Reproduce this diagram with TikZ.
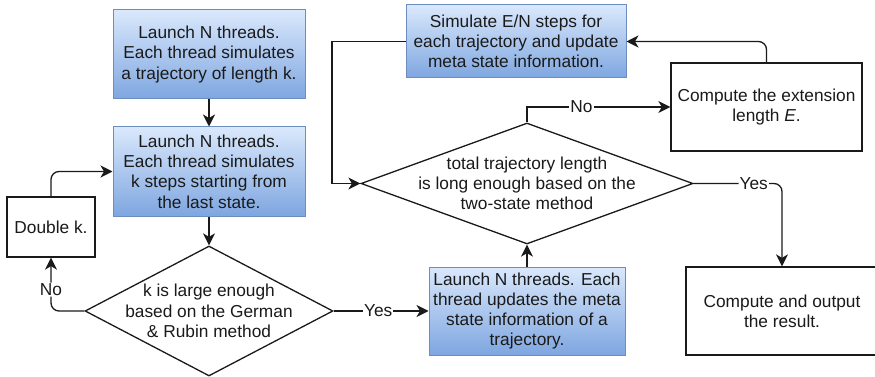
\documentclass[tikz,border=0pt]{standalone}
\usepackage{fontspec}
\setmainfont{Liberation Sans}
\usetikzlibrary{shapes.geometric,arrows.meta}
\definecolor{edgeblue}{HTML}{6C8EBF}
\definecolor{lightblue}{HTML}{DAE8FC}
\definecolor{darkblue}{HTML}{7EA6E0}
\definecolor{ink}{HTML}{1A1A1A}
\tikzset{
  txt/.style={font=\fontsize{17.3}{20.3}\selectfont, text=ink, align=center},
  bluebox/.style={txt, rectangle, draw=edgeblue, line width=1pt,
    top color=lightblue, bottom color=darkblue, inner sep=0pt},
  plainbox/.style={txt, rectangle, draw=ink, line width=1.3pt, fill=white, inner sep=0pt},
  decision/.style={diamond, draw=ink, line width=1.3pt, fill=white, inner sep=0pt},
  conn/.style={draw=ink, line width=1.3pt, -{Stealth[length=12pt,width=12pt,inset=3.5pt]}},
  edgelabel/.style={txt, fill=white, inner sep=1pt}
}
\begin{document}
\begin{tikzpicture}[x=1pt,y=-1pt]
\useasboundingbox (0,0) rectangle (875,377);
\clip (0,0) rectangle (875,377);

% left column
\node[bluebox, minimum width=192pt, minimum height=89pt] (init) at (209,54.5)
  {Launch N threads.\\Each thread simulates\\a trajectory of length k.};
\node[bluebox, minimum width=192pt, minimum height=89pt] (steps) at (209,171.5)
  {Launch N threads.\\Each thread simulates\\k steps starting from\\the last state.};
\node[plainbox, minimum width=88pt, minimum height=60pt] (double) at (51,227) {Double k.};
\node[decision, minimum width=248pt, minimum height=130pt,
  label={[txt]center:{k is large enough\\based on the German\\\& Rubin method}}] (gr) at (209,311) {};

% middle and right
\node[bluebox, minimum width=196pt, minimum height=88pt] (meta) at (527,311)
  {Launch N threads. Each\\thread updates the meta\\state information of a\\trajectory.};
\node[decision, minimum width=332pt, minimum height=121pt,
  label={[txt]center:{total trajectory length\\is long enough based on the\\two-state method}}] (ts) at (527,183.5) {};
\node[bluebox, minimum width=220pt, minimum height=73pt] (sim) at (516,41.5)
  {Simulate E/N steps for\\each trajectory and update\\meta state information.};
\node[plainbox, minimum width=191pt, minimum height=88pt] (ext) at (766.5,107)
  {Compute the extension\\length \emph{E}.};
\node[plainbox, minimum width=192pt, minimum height=88pt] (out) at (782,311)
  {Compute and output\\the result.};

\coordinate (loop) at (332,41.5);

% connectors
\draw[conn] (init) -- (steps);
\draw[conn] (steps) -- (gr.north);
\draw[conn, rounded corners=8pt] (gr.west) -| node[edgelabel, pos=0.7] {No} (double.south);
\draw[conn, rounded corners=8pt] (double.north) |- (steps.west);
\draw[conn] (gr.east) -- node[edgelabel, pos=0.47] {Yes} (meta.west);
\draw[conn] (meta.north) -- (ts.south);
\draw[conn] (ts.north) |- node[edgelabel, pos=0.69] {No} (ext.west);
\draw[conn, rounded corners=8pt] (ext.north) |- (sim.east);
\draw[conn] (sim.west) -- (loop) |- (ts.west);
\draw[conn, rounded corners=8pt] (ts.east) -| node[edgelabel, pos=0.34] {Yes} (out.north);
\end{tikzpicture}
\end{document}
